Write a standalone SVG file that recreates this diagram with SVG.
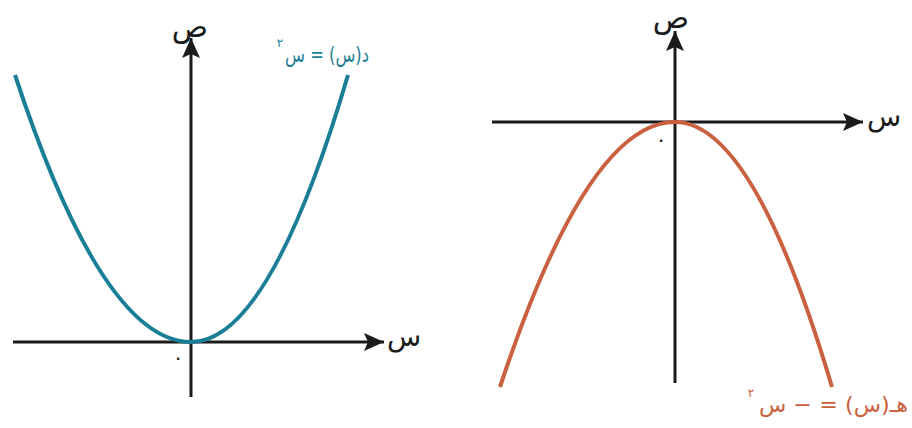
<svg xmlns="http://www.w3.org/2000/svg" width="912" height="428" viewBox="0 0 912 428">
<style>
.axis{stroke:#1a1a1a;stroke-width:3;fill:none}
.lbl{font-family:"DejaVu Sans",sans-serif;fill:#1a1a1a}
.teal{stroke:#1a7e96;stroke-width:4;fill:none}
.red{stroke:#c9603f;stroke-width:4;fill:none}
.tealt{font-family:"DejaVu Sans",sans-serif;fill:#1a7e96}
.redt{font-family:"DejaVu Sans",sans-serif;fill:#c9603f}
</style>
<defs>
<marker id="ah" markerUnits="userSpaceOnUse" markerWidth="24" markerHeight="20" refX="20" refY="9" orient="auto" viewBox="0 0 24 20">
<path d="M20,9 L0,0 L4,9 L0,18 Z" fill="#1a1a1a"/>
</marker>
</defs>
<rect width="912" height="428" fill="#ffffff"/>
<g id="connectors">
<line class="axis" x1="13" y1="342" x2="384" y2="342" marker-end="url(#ah)"/>
<line class="axis" x1="191" y1="397" x2="191" y2="38" marker-end="url(#ah)"/>
<line class="axis" x1="492" y1="122" x2="863" y2="122" marker-end="url(#ah)"/>
<line class="axis" x1="675" y1="383" x2="675" y2="31" marker-end="url(#ah)"/>
</g>
<g id="graph-left">
<path class="teal" d="M15,75 Q103,342 191,342 Q269.5,342 348,75"/>
<text class="lbl" x="190" y="37" font-size="30" text-anchor="middle">ص</text>
<text class="lbl" x="404" y="346" font-size="28" text-anchor="middle">س</text>
<text class="lbl" x="178" y="364" font-size="20" text-anchor="middle">٠</text>
<text class="tealt" x="369" y="62" font-size="21" text-anchor="end" textLength="84" lengthAdjust="spacingAndGlyphs">د(س) = س</text>
<text class="tealt" x="280" y="47" font-size="12" text-anchor="middle">٢</text>
</g>
<g id="graph-right">
<path class="red" d="M500,387 Q587.5,122 675,122 Q753.5,122 832,387"/>
<text class="lbl" x="671" y="28" font-size="30" text-anchor="middle">ص</text>
<text class="lbl" x="884" y="126" font-size="28" text-anchor="middle">س</text>
<text class="lbl" x="661" y="146" font-size="20" text-anchor="middle">٠</text>
<text class="redt" x="908" y="412" font-size="21" text-anchor="end" textLength="149" lengthAdjust="spacingAndGlyphs">هـ(س) = − س</text>
<text class="redt" x="751" y="397" font-size="12" text-anchor="middle">٢</text>
</g>
</svg>
